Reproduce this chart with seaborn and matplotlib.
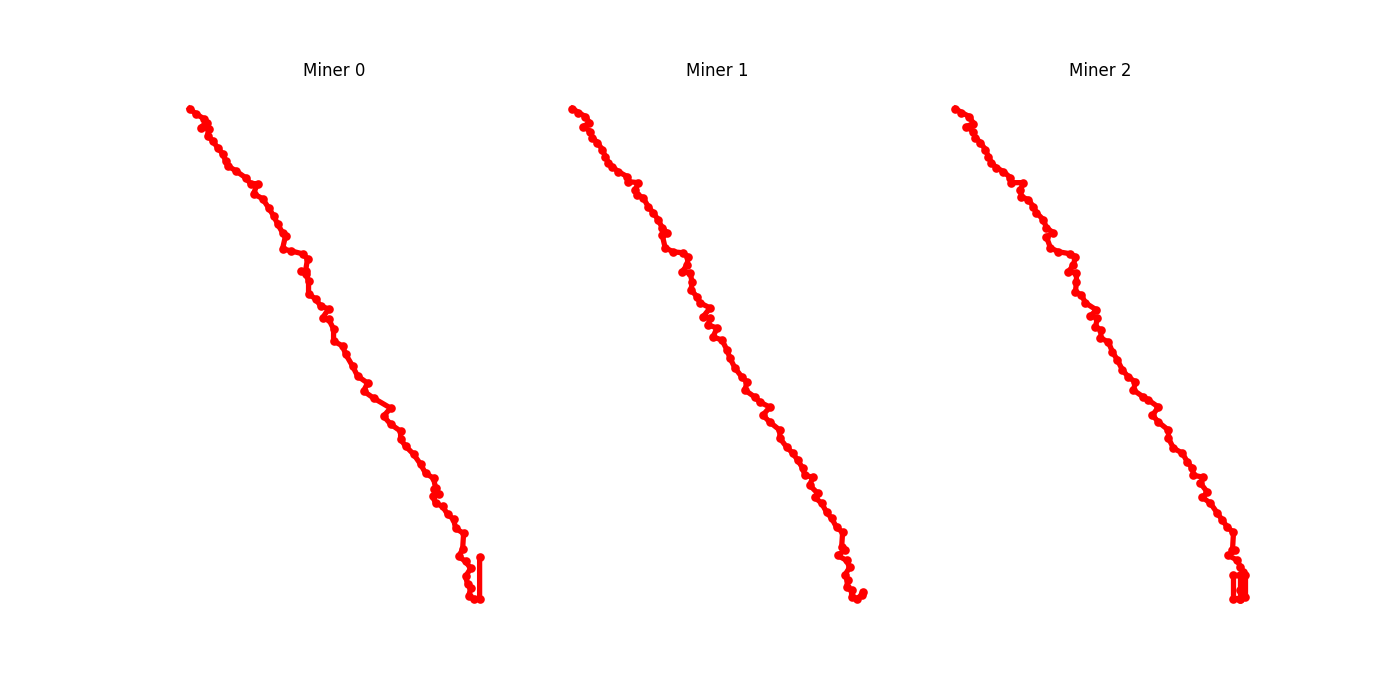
import matplotlib
matplotlib.use("Agg")
import matplotlib.pyplot as plt
import seaborn as sns
import pandas as pd

miner0_x = [189, 195, 203, 206, 200, 208, 207, 212, 217, 222, 225, 227, 235, 245, 250, 257, 253, 262, 268, 273,
            277, 282, 285, 282, 290, 302, 307, 305, 300, 305, 308, 308, 315, 320, 328, 322, 328, 333, 333, 342,
            345, 352, 357, 367, 363, 373, 390, 383, 390, 400, 400, 405, 413, 420, 425, 433, 435, 433, 438, 432,
            435, 442, 447, 453, 455, 463, 462, 458, 465, 470, 465, 467, 470, 468, 473, 479, 479]
miner0_y = [108, 113, 118, 122, 127, 128, 135, 140, 147, 153, 160, 165, 170, 177, 183, 183, 193, 198, 207, 215,
            223, 232, 235, 248, 250, 253, 258, 270, 270, 273, 280, 293, 298, 305, 308, 317, 318, 328, 340, 345,
            353, 365, 375, 382, 390, 397, 407, 415, 423, 430, 438, 445, 453, 463, 472, 477, 487, 488, 493, 495,
            502, 505, 513, 518, 527, 532, 548, 555, 560, 567, 575, 583, 587, 595, 597, 597, 556]

miner1_x = [572, 578, 585, 589, 583, 590, 592, 597, 602, 605, 608, 612, 618, 627, 628, 638, 635, 637, 643, 648,
            653, 658, 662, 667, 662, 665, 673, 683, 688, 687, 682, 690, 692, 691, 697, 700, 710, 703, 710, 708,
            717, 713, 722, 727, 730, 735, 742, 747, 745, 755, 760, 770, 763, 770, 780, 780, 787, 793, 798, 803,
            805, 813, 810, 818, 815, 822, 827, 832, 837, 843, 842, 845, 838, 847, 850, 845, 848, 847, 852, 852,
            857, 862, 863]
miner1_y = [109, 113, 117, 123, 127, 132, 138, 143, 150, 157, 163, 167, 172, 177, 182, 183, 190, 195, 198, 207,
            213, 220, 228, 233, 235, 248, 252, 253, 257, 265, 272, 273, 282, 290, 297, 303, 308, 317, 318, 325,
            328, 337, 340, 350, 358, 368, 377, 382, 390, 397, 402, 407, 415, 422, 430, 438, 447, 453, 460, 468,
            475, 477, 485, 493, 497, 503, 512, 518, 527, 532, 547, 550, 555, 560, 567, 575, 580, 587, 590, 597,
            598, 595, 592]

miner2_x = [955, 961, 969, 973, 966, 973, 975, 980, 985, 988, 991, 996, 1003, 1010, 1011, 1023, 1020, 1021, 1028, 1033,
            1036, 1043, 1046, 1053, 1046, 1050, 1058, 1070, 1075, 1073, 1068, 1076, 1076, 1075, 1081, 1085, 1096, 1090, 1097, 1095,
            1101, 1100, 1108, 1112, 1117, 1122, 1128, 1135, 1133, 1143, 1148, 1158, 1152, 1158, 1168, 1168, 1173, 1182, 1187, 1192,
            1193, 1203, 1200, 1207, 1202, 1210, 1217, 1222, 1227, 1233, 1232, 1235, 1228, 1237, 1240, 1243, 1245, 1245, 1240, 1233,
            1233, 1240, 1240, 1240]
miner2_y = [109, 113, 117, 124, 127, 132, 138, 143, 150, 157, 163, 168, 172, 178, 183, 183, 190, 197, 200, 207,
            213, 220, 228, 233, 237, 248, 252, 254, 257, 265, 272, 273, 282, 292, 295, 303, 310, 316, 318, 327,
            330, 338, 342, 352, 360, 370, 377, 382, 390, 397, 400, 407, 415, 422, 430, 438, 448, 453, 462, 468,
            475, 477, 483, 492, 497, 503, 513, 520, 527, 532, 550, 550, 555, 560, 567, 572, 575, 597, 598, 598,
            575, 575, 590, 598]

titles = ["Miner 0", "Miner 1", "Miner 2"]
paths = [(miner0_x, miner0_y), (miner1_x, miner1_y), (miner2_x, miner2_y)]

fig, axes = plt.subplots(1, 3, figsize=(14, 7), dpi=100)
for ax, title, (xs, ys) in zip(axes, titles, paths):
    df = pd.DataFrame({"x": xs, "y": ys})
    sns.lineplot(data=df, x="x", y="y", sort=False, estimator=None, ax=ax,
                 color="red", linewidth=3.8, marker="o", markersize=6.2,
                 markeredgewidth=0, markeredgecolor="red", markerfacecolor="red")
    ax.invert_yaxis()
    ax.set_title(title)
    ax.axis("off")

fig.savefig("out.png", dpi=100)
